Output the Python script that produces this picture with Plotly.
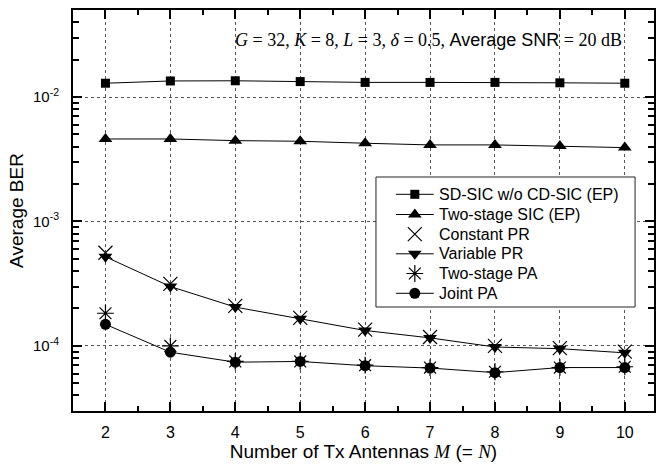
import plotly.graph_objects as go

M = [2, 3, 4, 5, 6, 7, 8, 9, 10]
sd_sic = [1.29e-2, 1.345e-2, 1.35e-2, 1.33e-2, 1.31e-2, 1.31e-2, 1.31e-2, 1.30e-2, 1.29e-2]
two_stage_sic = [4.6e-3, 4.6e-3, 4.46e-3, 4.41e-3, 4.25e-3, 4.12e-3, 4.12e-3, 4.04e-3, 3.92e-3]
constant_pr = [5.6e-4, 3.15e-4, 2.1e-4, 1.68e-4, 1.35e-4, 1.18e-4, 1.0e-4, 9.6e-5, 9.0e-5]
variable_pr = [5.2e-4, 3.0e-4, 2.05e-4, 1.65e-4, 1.33e-4, 1.16e-4, 9.8e-5, 9.5e-5, 8.8e-5]
two_stage_pa = [1.83e-4, 1.0e-4, 7.5e-5, 7.5e-5, 7.0e-5, 6.7e-5, 6.2e-5, 6.7e-5, 6.8e-5]
joint_pa = [1.49e-4, 8.9e-5, 7.4e-5, 7.5e-5, 6.93e-5, 6.64e-5, 6.1e-5, 6.7e-5, 6.7e-5]

y_tickvals = [1e-4, 1e-3, 1e-2]
y_ticktext = ["10<sup>-4</sup>", "10<sup>-3</sup>", "10<sup>-2</sup>"]
y_minor = [m * 10.0 ** e for e in (-5, -4, -3, -2) for m in range(2, 10)]
x_minor = [2.5, 3.5, 4.5, 5.5, 6.5, 7.5, 8.5, 9.5]

SANS = "Liberation Sans"
SERIF = "Liberation Serif"

series = [
    ("SD-SIC w/o CD-SIC (EP)", sd_sic, "square", 9, True),
    ("Two-stage SIC (EP)", two_stage_sic, "triangle-up", 12, True),
    ("Constant PR", constant_pr, "x-thin-open", 14, False),
    ("Variable PR", variable_pr, "triangle-down", 12, True),
    ("Two-stage PA", two_stage_pa, "asterisk-open", 14, False),
    ("Joint PA", joint_pa, "circle", 11, True),
]

X_RANGE = [1.5, 10.45]
Y_RANGE = [-4.523, -1.301]

# plot-area pixel geometry (used only for legend placement)
L, R, T, B = 73, 656, 10, 411
def px(x):
    return (x - L) / (R - L)
def py(y):
    return (B - y) / (B - T)

fig = go.Figure()
line = dict(color="black", width=1)

def marker_for(sym, size):
    if sym.endswith("-open"):
        return dict(symbol=sym, size=size, color="black", line=dict(color="black", width=1.2))
    return dict(symbol=sym, size=size, color="black")

for name, vals, sym, size, has_line in series:
    fig.add_trace(go.Scatter(x=M, y=vals, name=name,
                             mode="lines+markers" if has_line else "markers",
                             line=line, marker=marker_for(sym, size), showlegend=False))

# custom legend drawn on an overlay axis pair spanning the plot area
bx0, bx1, by0, by1 = px(377), px(637), py(307), py(177)
fig.add_trace(go.Scatter(x=[bx0, bx1, bx1, bx0, bx0], y=[by0, by0, by1, by1, by0],
                         mode="lines", fill="toself", fillcolor="white",
                         line=dict(color="#222", width=1), xaxis="x2", yaxis="y2",
                         showlegend=False, hoverinfo="skip"))
leg_rows = [194.3, 214.5, 234.2, 253.8, 273.5, 293.3]
annotations = []
for (name, vals, sym, size, has_line), ry in zip(series, leg_rows):
    if has_line:
        fig.add_trace(go.Scatter(x=[px(397), px(435)], y=[py(ry), py(ry)], mode="lines",
                                 line=line, xaxis="x2", yaxis="y2",
                                 showlegend=False, hoverinfo="skip"))
    fig.add_trace(go.Scatter(x=[px(416)], y=[py(ry)], mode="markers", xaxis="x2", yaxis="y2",
                             marker=marker_for(sym, size), showlegend=False, hoverinfo="skip"))
    annotations.append(dict(xref="paper", yref="paper", x=px(438), y=py(ry), xanchor="left",
                            yanchor="middle", showarrow=False, text=name,
                            font=dict(family=SANS, size=16, color="black")))

annotations.append(dict(
    xref="paper", yref="paper", x=0.948, y=0.925, xanchor="right", yanchor="middle",
    showarrow=False, font=dict(family=SANS, size=18, color="black"),
    text=(f'<span style="font-family:{SERIF}"><i>G</i> = 32, <i>K</i> = 8, <i>L</i> = 3, '
          f'<i>δ</i> = 0.5, </span>Average SNR<span style="font-family:{SERIF}"> = 20 dB</span>')))

xaxis = dict(
    range=X_RANGE, tickvals=M, ticks="inside", ticklen=9, tickwidth=1.5,
    tickcolor="black", showline=True, linecolor="black", linewidth=2, mirror="ticks",
    showgrid=True, gridcolor="#555", griddash="dot", gridwidth=1, zeroline=False,
    tickfont=dict(family=SANS, size=16), ticklabelstandoff=6,
    minor=dict(tickvals=x_minor, ticks="inside",
               ticklen=5, tickcolor="black", tickwidth=1.5, showgrid=False),
    title=dict(text=f'Number of Tx Antennas <span style="font-family:{SERIF}"><i>M</i></span> (= '
                    f'<span style="font-family:{SERIF}"><i>N</i></span>)',
               font=dict(family=SANS, size=19), standoff=4),
)
yaxis = dict(
    type="log", range=Y_RANGE, tickvals=y_tickvals, ticktext=y_ticktext,
    ticks="inside", ticklen=9, tickwidth=1.5, tickcolor="black",
    showline=True, linecolor="black", linewidth=2, mirror="ticks",
    showgrid=True, gridcolor="#555", griddash="dot", gridwidth=1, zeroline=False,
    tickfont=dict(family=SANS, size=15), ticklabelstandoff=9,
    minor=dict(tickvals=y_minor, ticks="inside", ticklen=6, tickcolor="black", tickwidth=1.5,
               showgrid=False),
    title=dict(text="Average BER", font=dict(family=SANS, size=19), standoff=4),
)

fig.update_layout(
    width=656, height=465,
    margin=dict(l=L, r=656 - R, t=T, b=465 - B),
    paper_bgcolor="white", plot_bgcolor="white",
    font=dict(family=SANS, size=16, color="black"),
    showlegend=False,
    annotations=annotations,
    xaxis=xaxis,
    yaxis=yaxis,
    xaxis2=dict(overlaying="x", range=[0, 1], visible=False, anchor="y2"),
    yaxis2=dict(overlaying="y", range=[0, 1], visible=False, anchor="x2"),
    # mirrored minor ticks on the top and right frame edges
    xaxis3=dict(overlaying="x", side="top", anchor="y", range=X_RANGE, tickvals=x_minor,
                ticks="inside", ticklen=5, tickwidth=1.5, tickcolor="black",
                showticklabels=False, showgrid=False, showline=False, zeroline=False),
    yaxis3=dict(overlaying="y", side="right", anchor="x", type="log", range=Y_RANGE,
                tickvals=y_minor, ticks="inside", ticklen=6, tickwidth=1.5, tickcolor="black",
                showticklabels=False, showgrid=False, showline=False, zeroline=False),
)

fig.write_html("out.html")
